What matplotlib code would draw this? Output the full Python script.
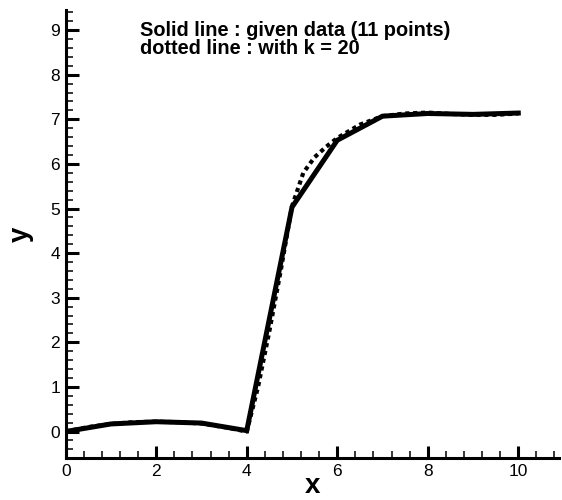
import matplotlib
matplotlib.use("Agg")
import matplotlib.pyplot as plt
from matplotlib.ticker import MultipleLocator

plt.rcParams['font.family'] = ['Liberation Sans', 'DejaVu Sans']

# given data (11 points)
x_given = [0, 1, 2, 3, 4, 5, 6, 7, 8, 9, 10]
y_given = [0.0, 0.17, 0.22, 0.19, 0.02, 5.03, 6.53, 7.07, 7.13, 7.11, 7.14]

# curve with k = 20
x_k20 = [0, 0.5, 1, 1.5, 2, 2.5, 3, 3.5, 4, 4.25, 4.5, 4.75, 5, 5.25, 5.5, 5.75, 6, 6.5, 7, 7.5, 8, 8.5, 9, 9.5, 10]
y_k20 = [0.0, 0.1, 0.17, 0.21, 0.22, 0.21, 0.18, 0.1, 0.0, 1.0, 2.25, 3.6, 5.05, 5.8, 6.15, 6.38, 6.58, 6.88, 7.07, 7.13, 7.15, 7.12, 7.1, 7.1, 7.13]

fig = plt.figure(figsize=(5.62, 5.00), dpi=100)
ax = fig.add_axes([0.1169, 0.0834, 0.9947 - 0.1169, 0.98 - 0.0834])

ax.plot(x_given, y_given, color='black', lw=3.6, solid_joinstyle='miter', zorder=3)
ax.plot(x_k20, y_k20, color='black', lw=3.0, linestyle=(0, (1.0, 0.9)), zorder=2)

ax.set_xlim(0, 10.9)
ax.set_ylim(-0.6, 9.45)
ax.xaxis.set_major_locator(MultipleLocator(2))
ax.xaxis.set_minor_locator(MultipleLocator(0.4))
ax.yaxis.set_major_locator(MultipleLocator(1))
ax.yaxis.set_minor_locator(MultipleLocator(0.2))

for s in ['top', 'right']:
    ax.spines[s].set_visible(False)
for s in ['left', 'bottom']:
    ax.spines[s].set_linewidth(2.2)

ax.tick_params(which='major', direction='in', length=9, width=2.2, labelsize=12.5, pad=4)
ax.tick_params(which='minor', direction='in', length=5, width=1.1)

ax.set_xlabel('x', fontsize=20, fontweight='bold', labelpad=-4)
ax.set_ylabel('y', fontsize=20, fontweight='bold', labelpad=12)

ax.text(0.1515, 0.975, 'Solid line : given data (11 points)\ndotted line : with k = 20',
        transform=ax.transAxes, fontsize=14.4, fontweight='bold', va='top', ha='left',
        linespacing=0.95)

fig.savefig('out.png', dpi=100)
